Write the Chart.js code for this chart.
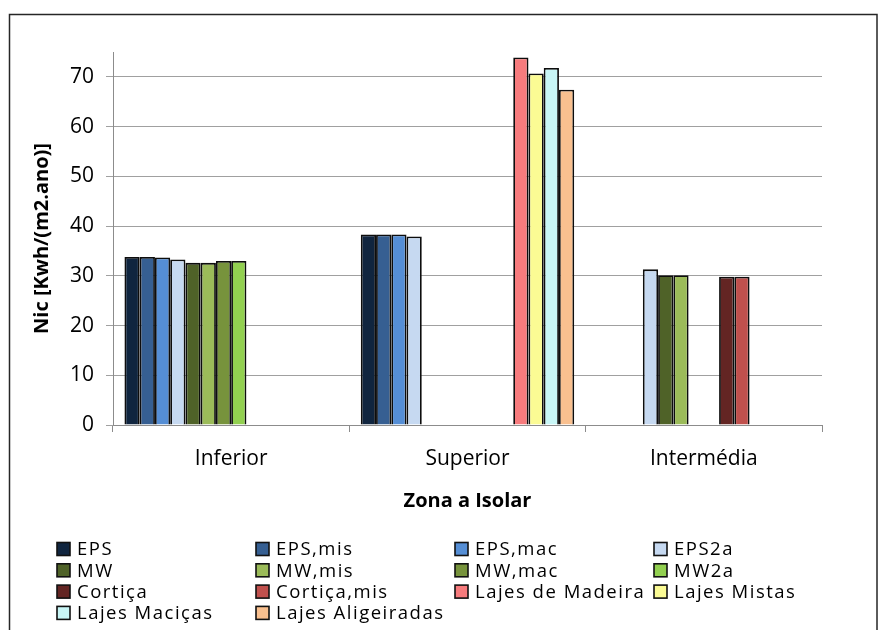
<!DOCTYPE html>
<html>
<head>
<meta charset="utf-8">
<title>Nic por zona a isolar</title>
<style>
  html, body { margin: 0; padding: 0; background: #ffffff; }
  #wrap { width: 882px; height: 630px; position: relative; }
</style>
<script src="https://cdn.jsdelivr.net/npm/chart.js@4/dist/chart.umd.min.js"></script>
</head>
<body>
<div id="wrap"><canvas id="chart" width="882" height="630"></canvas></div>
<script>
// Zonas a isolar (categorias do eixo X)
const zones = ['Inferior', 'Superior', 'Intermédia'];

// Nic [Kwh/(m2.ano)] por solução de isolamento, uma lista por série
const eps              = [33.8, 38.3, null];
const epsMis           = [33.8, 38.3, null];
const epsMac           = [33.7, 38.3, null];
const eps2a            = [33.3, 37.9, 31.3];
const mw               = [32.6, null, 30.1];
const mwMis            = [32.6, null, 30.1];
const mwMac            = [33.0, null, null];
const mw2a             = [33.0, null, null];
const cortica          = [null, null, 29.8];
const corticaMis       = [null, null, 29.8];
const lajesMadeira     = [null, 73.9, null];
const lajesMistas      = [null, 70.7, null];
const lajesMacicas     = [null, 71.8, null];
const lajesAligeiradas = [null, 67.4, null];

// Nomes das séries (legenda)
const seriesNames = [
  'EPS', 'EPS,mis', 'EPS,mac', 'EPS2a',
  'MW', 'MW,mis', 'MW,mac', 'MW2a',
  'Cortiça', 'Cortiça,mis', 'Lajes de Madeira', 'Lajes Mistas',
  'Lajes Maciças', 'Lajes Aligeiradas'
];
const seriesValues = [
  eps, epsMis, epsMac, eps2a,
  mw, mwMis, mwMac, mw2a,
  cortica, corticaMis, lajesMadeira, lajesMistas,
  lajesMacicas, lajesAligeiradas
];
const seriesColors = [
  '#10253f', '#365f92', '#558ed5', '#c6d9f1',
  '#4f6228', '#9bbb59', '#77933c', '#92d050',
  '#632523', '#c0504d', '#f77b7d', '#fbfb94',
  '#c8f6f6', '#f9c08f'
];

// Marcas do eixo Y
const yTicks = [0, 10, 20, 30, 40, 50, 60, 70];

const FONT = "'Open Sans', 'DejaVu Sans', sans-serif";
Chart.defaults.font.family = FONT;
Chart.defaults.color = '#000000';

// Moldura exterior e fundo branco
const framePlugin = {
  id: 'frame',
  beforeDraw(chart) {
    const ctx = chart.ctx;
    ctx.save();
    ctx.fillStyle = '#ffffff';
    ctx.fillRect(0, 0, chart.width, chart.height);
    ctx.strokeStyle = '#262626';
    ctx.lineWidth = 1.5;
    ctx.strokeRect(9.5, 14.5, 867.5, chart.height + 20);
    ctx.restore();
  }
};

// Legenda em grelha de quatro colunas, por baixo do título do eixo X
const gridLegend = {
  id: 'gridLegend',
  afterDraw(chart, args, opts) {
    const ctx = chart.ctx;
    const area = chart.chartArea;
    ctx.save();
    ctx.font = opts.font;
    if ('letterSpacing' in ctx) ctx.letterSpacing = opts.letterSpacing;
    ctx.textBaseline = 'middle';
    ctx.textAlign = 'left';
    chart.data.datasets.forEach((ds, i) => {
      const col = i % opts.columns;
      const row = Math.floor(i / opts.columns);
      const x = opts.left + col * opts.colWidth;
      const y = area.bottom + opts.offsetTop + row * opts.rowHeight;
      const b = opts.boxSize;
      ctx.fillStyle = ds.backgroundColor;
      ctx.fillRect(x, y - b / 2, b, b);
      ctx.strokeStyle = '#111111';
      ctx.lineWidth = 1.6;
      ctx.strokeRect(x, y - b / 2, b, b);
      ctx.fillStyle = '#000000';
      ctx.fillText(ds.label, x + b + 7, y + 1);
    });
    ctx.restore();
  }
};

const datasets = seriesNames.map((name, i) => ({
  label: name,
  data: seriesValues[i],
  backgroundColor: seriesColors[i],
  borderColor: '#0d0d0d',
  borderWidth: 1.8,
  borderSkipped: 'bottom',
  categoryPercentage: 0.903,
  barPercentage: 1.0
}));

new Chart(document.getElementById('chart'), {
  type: 'bar',
  data: { labels: zones, datasets },
  plugins: [framePlugin, gridLegend],
  options: {
    responsive: false,
    devicePixelRatio: 1,
    animation: false,
    layout: { padding: { top: 52, left: 10, right: 60, bottom: 110 } },
    plugins: {
      legend: { display: false },
      tooltip: { enabled: false },
      gridLegend: {
        columns: 4,
        left: 57,
        colWidth: 199,
        rowHeight: 21.3,
        offsetTop: 124,
        boxSize: 13,
        font: "18.5px " + FONT,
        letterSpacing: '1.5px'
      }
    },
    scales: {
      x: {
        grid: {
          offset: true,
          drawOnChartArea: false,
          drawTicks: true,
          tickLength: 7,
          color: '#8c8c8c'
        },
        border: { color: '#8c8c8c', width: 1 },
        ticks: { font: { size: 21 }, padding: 14, color: '#000000' },
        title: {
          display: true,
          text: 'Zona a Isolar',
          font: { size: 20, weight: 'bold' },
          color: '#000000',
          padding: { top: 4, bottom: 7 }
        },
        afterFit(scale) { scale.height = 95; }
      },
      y: {
        min: 0,
        max: 75,
        grid: {
          color: '#a0a0a0',
          tickLength: 7,
          drawTicks: true
        },
        border: { color: '#8c8c8c', width: 1 },
        ticks: { stepSize: 10, font: { size: 21 }, padding: 12, color: '#000000' },
        afterBuildTicks(scale) {
          scale.ticks = yTicks.map(v => ({ value: v }));
        },
        title: {
          display: true,
          text: 'Nic [Kwh/(m2.ano)]',
          font: { size: 20, weight: 'bold' },
          color: '#000000',
          padding: { top: 20, bottom: 4 }
        },
        afterFit(scale) { scale.width = 103; }
      }
    }
  }
});
</script>
</body>
</html>
